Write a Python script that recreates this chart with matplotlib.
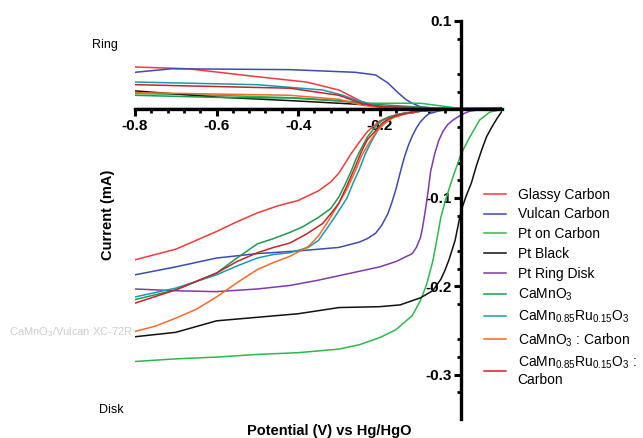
import matplotlib
matplotlib.use("Agg")
import matplotlib.pyplot as plt
from matplotlib.ticker import FixedLocator

plt.rcParams['font.family'] = ['Liberation Sans', 'DejaVu Sans']
plt.rcParams['mathtext.default'] = 'regular'

labels = ["Glassy Carbon", "Vulcan Carbon", "Pt on Carbon", "Pt Black", "Pt Ring Disk",
          "CaMnO$_3$", "CaMn$_{0.85}$Ru$_{0.15}$O$_3$", "CaMnO$_3$ : Carbon",
          "CaMn$_{0.85}$Ru$_{0.15}$O$_3$ :\nCarbon"]
colors = ["#EE3B3B", "#3C4BB0", "#2DB84C", "#111111", "#7E3AAA",
          "#1E9A4E", "#1B9AAE", "#F26B2A", "#C4242C"]

# Disk currents (mA)
disk_x = [
    [-0.8, -0.7, -0.6, -0.55, -0.5, -0.45, -0.4, -0.35, -0.32, -0.3, -0.285, -0.27, -0.25, -0.23, -0.2, -0.175, -0.15, -0.1, 0, 0.1],
    [-0.8, -0.7, -0.6, -0.5, -0.4, -0.3, -0.25, -0.23, -0.21, -0.195, -0.18, -0.17, -0.16, -0.15, -0.14, -0.13, -0.12, -0.11, -0.10, -0.09, -0.08, -0.05, 0, 0.1],
    [-0.8, -0.7, -0.6, -0.5, -0.4, -0.3, -0.25, -0.2, -0.16, -0.12, -0.1, -0.085, -0.07, -0.06, -0.05, -0.04, -0.03, -0.02, -0.01, 0.0, 0.02, 0.045, 0.07, 0.1],
    [-0.8, -0.7, -0.6, -0.5, -0.4, -0.3, -0.2, -0.15, -0.1, -0.07, -0.05, -0.04, -0.03, -0.015, -0.008, 0, 0.012, 0.025, 0.037, 0.05, 0.062, 0.075, 0.088, 0.1],
    [-0.8, -0.7, -0.6, -0.5, -0.42, -0.35, -0.26, -0.2, -0.16, -0.12, -0.11, -0.10, -0.095, -0.09, -0.085, -0.08, -0.075, -0.065, -0.055, -0.045, -0.033, -0.02, 0, 0.02, 0.05, 0.1],
    [-0.8, -0.7, -0.6, -0.55, -0.5, -0.46, -0.42, -0.39, -0.35, -0.32, -0.3, -0.285, -0.27, -0.258, -0.245, -0.23, -0.21, -0.195, -0.18, -0.14, -0.1, -0.05, 0, 0.1],
    [-0.8, -0.7, -0.6, -0.55, -0.5, -0.46, -0.42, -0.375, -0.35, -0.33, -0.305, -0.28, -0.265, -0.25, -0.235, -0.22, -0.205, -0.19, -0.17, -0.15, -0.1, -0.05, 0, 0.1],
    [-0.8, -0.75, -0.7, -0.65, -0.6, -0.55, -0.5, -0.46, -0.42, -0.375, -0.35, -0.33, -0.305, -0.28, -0.26, -0.245, -0.225, -0.205, -0.185, -0.17, -0.13, -0.1, -0.05, 0, 0.1],
    [-0.8, -0.7, -0.6, -0.55, -0.5, -0.46, -0.42, -0.38, -0.34, -0.32, -0.3, -0.28, -0.26, -0.245, -0.23, -0.21, -0.195, -0.18, -0.16, -0.12, -0.08, -0.04, 0, 0.1],
]
disk_y = [
    [-0.170, -0.158, -0.138, -0.127, -0.117, -0.109, -0.103, -0.092, -0.082, -0.072, -0.061, -0.050, -0.037, -0.025, -0.013, -0.008, -0.005, -0.002, 0, 0],
    [-0.187, -0.178, -0.168, -0.163, -0.160, -0.156, -0.150, -0.146, -0.140, -0.131, -0.118, -0.105, -0.090, -0.072, -0.055, -0.041, -0.030, -0.021, -0.014, -0.009, -0.005, -0.001, 0, 0],
    [-0.285, -0.282, -0.280, -0.277, -0.275, -0.271, -0.266, -0.258, -0.249, -0.233, -0.216, -0.198, -0.172, -0.148, -0.122, -0.105, -0.090, -0.076, -0.063, -0.050, -0.032, -0.012, -0.003, 0],
    [-0.257, -0.252, -0.239, -0.235, -0.231, -0.224, -0.223, -0.221, -0.213, -0.205, -0.192, -0.182, -0.170, -0.148, -0.132, -0.114, -0.098, -0.083, -0.064, -0.046, -0.031, -0.020, -0.010, -0.002],
    [-0.203, -0.205, -0.206, -0.203, -0.199, -0.193, -0.184, -0.178, -0.172, -0.163, -0.156, -0.145, -0.134, -0.120, -0.105, -0.088, -0.070, -0.050, -0.035, -0.025, -0.017, -0.012, -0.006, -0.002, 0, 0],
    [-0.215, -0.204, -0.185, -0.168, -0.152, -0.146, -0.139, -0.133, -0.122, -0.112, -0.099, -0.085, -0.070, -0.056, -0.044, -0.031, -0.019, -0.013, -0.009, -0.004, -0.002, -0.001, 0, 0],
    [-0.212, -0.202, -0.187, -0.177, -0.168, -0.164, -0.162, -0.156, -0.148, -0.135, -0.118, -0.100, -0.083, -0.068, -0.050, -0.036, -0.024, -0.016, -0.010, -0.006, -0.002, -0.001, 0, 0],
    [-0.251, -0.245, -0.236, -0.226, -0.212, -0.196, -0.181, -0.173, -0.166, -0.155, -0.143, -0.129, -0.110, -0.090, -0.070, -0.053, -0.037, -0.023, -0.015, -0.010, -0.004, -0.002, -0.001, 0, 0],
    [-0.219, -0.204, -0.185, -0.172, -0.162, -0.156, -0.151, -0.141, -0.129, -0.118, -0.106, -0.086, -0.065, -0.048, -0.034, -0.024, -0.016, -0.011, -0.007, -0.003, -0.001, 0, 0, 0],
]

# Ring currents (shown positive)
ring_x = [
    [-0.8, -0.67, -0.5, -0.38, -0.3, -0.27, -0.245, -0.2, -0.1, 0, 0.1],
    [-0.8, -0.71, -0.42, -0.26, -0.21, -0.18, -0.155, -0.135, -0.12, -0.1, -0.05, 0, 0.1],
    [-0.8, -0.6, -0.4, -0.3, -0.22, -0.15, -0.1, -0.05, 0, 0.1],
    [-0.8, -0.6, -0.42, -0.26, -0.18, -0.1, 0, 0.1],
    [-0.8, -0.4, -0.2, 0, 0.1],
    [-0.8, -0.6, -0.42, -0.3, -0.22, -0.15, -0.08, 0, 0.1],
    [-0.8, -0.5, -0.34, -0.29, -0.26, -0.2, -0.1, 0, 0.1],
    [-0.8, -0.42, -0.3, -0.245, -0.2, -0.1, 0, 0.1],
    [-0.8, -0.42, -0.3, -0.245, -0.2, -0.1, 0, 0.1],
]
ring_y = [
    [0.048, 0.046, 0.037, 0.031, 0.022, 0.015, 0.009, 0.003, 0.002, 0.001, 0.002],
    [0.042, 0.046, 0.045, 0.042, 0.039, 0.030, 0.019, 0.011, 0.007, 0.003, 0.001, 0.001, 0.001],
    [0.018, 0.016, 0.013, 0.010, 0.007, 0.007, 0.007, 0.004, 0.001, 0.001],
    [0.021, 0.014, 0.010, 0.006, 0.003, 0.001, 0.0, 0.0],
    [0.001, 0.001, 0.001, 0.0, 0.0],
    [0.016, 0.0136, 0.013, 0.0095, 0.006, 0.004, 0.002, 0.001, 0.001],
    [0.031, 0.028, 0.022, 0.016, 0.011, 0.003, 0.002, 0.001, 0.001],
    [0.019, 0.016, 0.0115, 0.005, 0.002, 0.001, 0.001, 0.002],
    [0.028, 0.024, 0.016, 0.007, 0.003, 0.002, 0.001, 0.002],
]

fig = plt.figure(figsize=(6.43, 4.38), dpi=100)
ax = fig.add_axes([135/643, 1 - 419/438, 367/643, 398/438])

lines = []
for i in range(len(labels)):
    ln, = ax.plot(disk_x[i], disk_y[i], color=colors[i], lw=1.1, label=labels[i])
    ax.plot(ring_x[i], ring_y[i], color=colors[i], lw=1.1)
    lines.append(ln)

ax.set_xlim(-0.8, 0.1)
ax.set_ylim(-0.35, 0.1)

for s in ['top', 'right']:
    ax.spines[s].set_visible(False)
ax.spines['left'].set_position(('data', 0))
ax.spines['bottom'].set_position(('data', 0))
ax.spines['left'].set_linewidth(2.4)
ax.spines['bottom'].set_linewidth(2.4)

ax.xaxis.set_major_locator(FixedLocator([-0.8, -0.6, -0.4, -0.2]))
ax.xaxis.set_minor_locator(FixedLocator([-0.8 + 0.04 * k for k in range(20) if k % 5 != 0]))
ax.yaxis.set_major_locator(FixedLocator([0.1, -0.1, -0.2, -0.3]))
ax.yaxis.set_minor_locator(FixedLocator([round(-0.34 + 0.02 * k, 2) for k in range(23) if k % 5 != 0]))
ax.set_xticklabels(["-0.8", "-0.6", "-0.4", "-0.2"])
ax.set_yticklabels(["0.1", "-0.1", "-0.2", "-0.3"])
ax.tick_params(which='major', direction='out', length=5, width=2.2, labelsize=11, pad=2)
ax.tick_params(which='minor', direction='out', length=3, width=2.0)
for t in ax.get_xticklabels() + ax.get_yticklabels():
    t.set_fontweight('bold')

fig.legend(handles=lines, labels=labels, loc='upper left',
           bbox_to_anchor=(478/643, 1 - 182/438), frameon=False, fontsize=10,
           handlelength=1.6, handletextpad=0.85, labelspacing=0.42, borderaxespad=0)

fig.text(329/643, 1 - 431/438, "Potential (V) vs Hg/HgO", ha='center', va='center',
         fontsize=10.5, fontweight='bold')
fig.text(108/643, 1 - 215/438, "Current (mA)", ha='center', va='center',
         fontsize=10.5, fontweight='bold', rotation=90)
fig.text(105/643, 1 - 45/438, "Ring", ha='center', va='center', fontsize=9)
fig.text(111/643, 1 - 410/438, "Disk", ha='center', va='center', fontsize=9)
fig.text(133/643, 1 - 332/438, "CaMnO$_3$/Vulcan XC-72R", ha='right', va='center',
         fontsize=8, color='#CCCCCC')

fig.savefig("out.png", dpi=100)
